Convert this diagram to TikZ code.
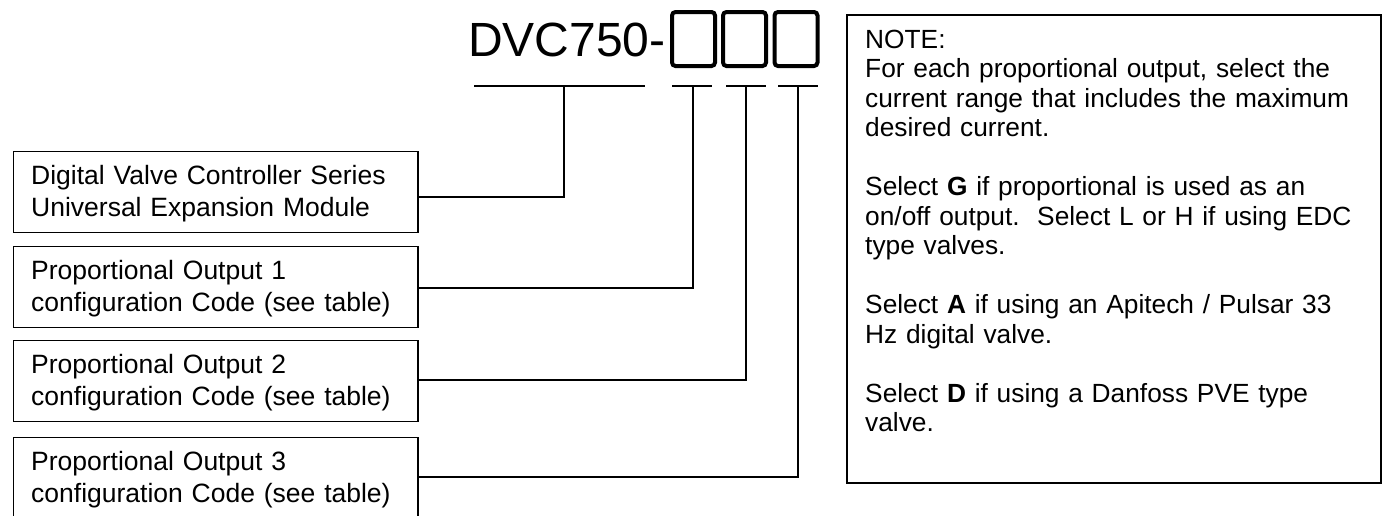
\documentclass[tikz,border=0pt]{standalone}
\usepackage{fontspec}
\setmainfont{Liberation Sans}
\begin{document}
\begin{tikzpicture}[x=1pt,y=-1pt,
  box/.style={draw, rectangle, minimum width=404.4pt, minimum height=81pt, anchor=north west, inner sep=0pt, line width=1.6pt},
  lbl/.style={anchor=base west, inner sep=0pt, text width=390pt, align=left, font=\fontsize{26.5}{32}\selectfont},
  sq/.style={draw, rectangle, line width=4pt, rounded corners=3.5pt, minimum width=43pt, minimum height=54pt, inner sep=0pt},
  wire/.style={line width=1.6pt}]
\useasboundingbox (0,0) rectangle (1386,515);

% title and code squares
\node[anchor=base west, inner sep=0pt, font=\fontsize{48}{48}\selectfont] (title) at (468,56) {DVC750-};
\node[sq] (sq1) at (693.5,39) {};
\node[sq] (sq2) at (744.5,39) {};
\node[sq] (sq3) at (796,39) {};

% underlines
\coordinate (u0a) at (474,86); \coordinate (u0b) at (645,86);
\coordinate (u1a) at (672,86); \coordinate (u1b) at (712,86);
\coordinate (u2a) at (726,86); \coordinate (u2b) at (766,86);
\coordinate (u3a) at (778,86); \coordinate (u3b) at (818,86);
\draw[wire] (u0a) -- (u0b);
\draw[wire] (u1a) -- (u1b);
\draw[wire] (u2a) -- (u2b);
\draw[wire] (u3a) -- (u3b);
\coordinate (c0) at (564,86);
\coordinate (c1) at (693,86);
\coordinate (c2) at (746,86);
\coordinate (c3) at (798,86);

% left boxes
\node[box] (b0) at (12.8,150.8) {};
\node[box] (b1) at (12.8,245.8) {};
\node[box] (b2) at (12.8,339.8) {};
\node[box] (b3) at (12.8,436.8) {};
\node[lbl] (t0) at (31,184) {Digital Valve Controller Series\\Universal Expansion Module};
\node[lbl] (t1) at (31,279) {Proportional Output 1\\configuration Code (see table)};
\node[lbl] (t2) at (31,373) {Proportional Output 2\\configuration Code (see table)};
\node[lbl] (t3) at (31,470) {Proportional Output 3\\configuration Code (see table)};

% connectors
\draw[wire] (b0.north east) ++(0,46.2) -| (c0);
\draw[wire] (b1.north east) ++(0,42.2) -| (c1);
\draw[wire] (b2.north east) ++(0,40.2) -| (c2);
\draw[wire] (b3.north east) ++(0,40.2) -| (c3);

% note box
\node[draw, rectangle, line width=1.6pt, minimum width=534pt, minimum height=468pt, anchor=north west, inner sep=0pt] (note) at (846,14) {};
\node[anchor=base west, inner sep=0pt, text width=510pt, align=left, font=\fontsize{26.3}{29.5}\selectfont] (notetext) at (865,48)
{NOTE:\\
For each proportional output, select the\\
current range that includes the maximum\\
desired current.\\[29.5pt]
Select \textbf{G} if proportional is used as an\\
on/off output.\ \ Select L or H if using EDC\\
type valves.\\[29.5pt]
Select \textbf{A} if using an Apitech / Pulsar 33\\
Hz digital valve.\\[29.5pt]
Select \textbf{D} if using a Danfoss PVE type\\
valve.};
\end{tikzpicture}
\end{document}
